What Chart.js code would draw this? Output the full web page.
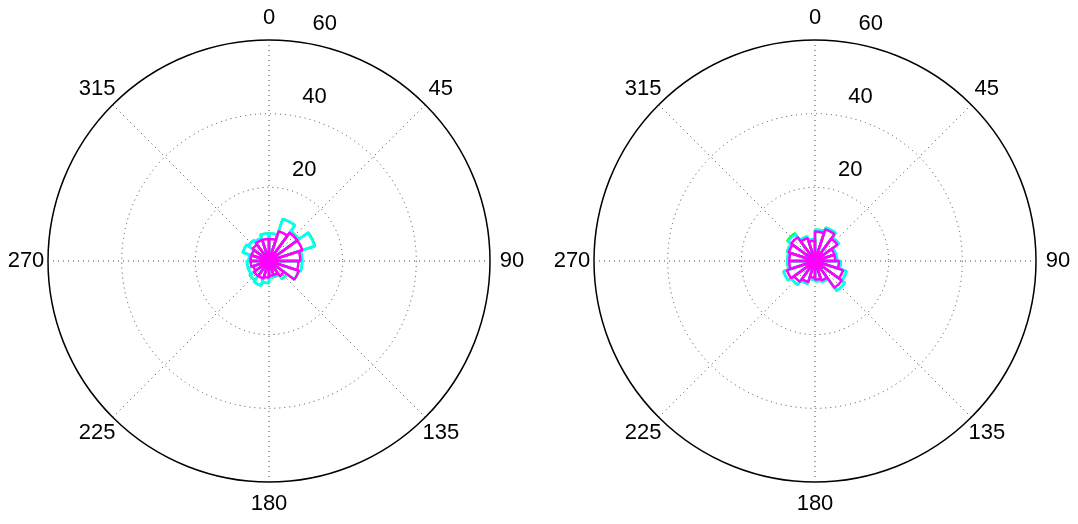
<!DOCTYPE html>
<html>
<head>
<meta charset="utf-8">
<script src="https://cdn.jsdelivr.net/npm/chart.js@4.4.0/dist/chart.umd.min.js"></script>
<style>
    html, body { margin: 0; padding: 0; background: #fff; }
    #wrap { position: relative; width: 1078px; height: 524px; }
    canvas { position: absolute; top: 0; }
</style>
</head>
<body>
<div id="wrap">
    <canvas id="roseLeft" width="539" height="524" style="left:0"></canvas>
    <canvas id="roseRight" width="539" height="524" style="left:539px"></canvas>
</div>
<script>
// Direction bins (start angle of each 18 degree bin, clockwise from north)
const binStarts = ['0', '18', '36', '54', '72', '90', '108', '126', '144', '162',
                   '180', '198', '216', '234', '252', '270', '288', '306', '324', '342'];

// Left rose: counts per bin
const leftGreen   = [7.5, 12, 10, 13.15, 9, 9, 8.5, 6, 4.5, 4.5, 6, 7, 6.5, 6, 6, 5.5, 7.5, 7, 6.5, 7.5];
const leftCyan    = [7.5, 12, 10, 13, 9, 9, 8.5, 6, 4.5, 4.5, 6, 7, 6.5, 6, 6, 5.5, 7.5, 7, 6.5, 7.5];
const leftMagenta = [6, 8.5, 9.5, 9.5, 8.5, 8, 8.5, 5, 4, 4, 4.5, 5, 5, 4.5, 5, 5, 5, 5.5, 6, 6];

// Right rose: counts per bin
const rightGreen   = [8.5, 9.5, 8, 6, 6, 7, 9, 10, 6, 5.5, 5, 6.5, 8, 9, 7.5, 7.5, 8, 9.3, 7, 6];
const rightCyan    = [8.5, 9.5, 8, 6, 6, 7, 9, 10, 6, 5.5, 5, 6.5, 8, 9, 7.5, 7.5, 8, 9, 7, 6];
const rightMagenta = [8, 9, 7.5, 5.5, 5.5, 6.5, 8, 9, 5.5, 5, 4.5, 6, 7, 8, 7, 7, 7.5, 8, 6.5, 5.5];

// Axis labels
const angleTicks = [0, 45, 90, 135, 180, 225, 270, 315];
const radialTicks = [20, 40, 60];
const radialMax = 60;

const labelFont = '22px "Liberation Sans", Arial, sans-serif';

// Draws the dotted spokes and the MATLAB-style text labels
const polarFrame = {
    id: 'polarFrame',
    beforeDatasetsDraw(chart) {
        const r = chart.scales.r;
        const ctx = chart.ctx;
        const R = r.getDistanceFromCenterForValue(radialMax);
        ctx.save();
        ctx.strokeStyle = '#444';
        ctx.lineWidth = 1;
        ctx.setLineDash([1, 4]);
        angleTicks.forEach(a => {
            const t = a * Math.PI / 180;
            ctx.beginPath();
            ctx.moveTo(r.xCenter, r.yCenter);
            ctx.lineTo(r.xCenter + R * Math.sin(t), r.yCenter - R * Math.cos(t));
            ctx.stroke();
        });
        ctx.restore();
    },
    afterDraw(chart) {
        const r = chart.scales.r;
        const ctx = chart.ctx;
        const R = r.getDistanceFromCenterForValue(radialMax);
        ctx.save();
        ctx.fillStyle = '#000';
        ctx.font = labelFont;
        ctx.textAlign = 'center';
        ctx.textBaseline = 'middle';
        angleTicks.forEach(a => {
            const t = a * Math.PI / 180;
            ctx.fillText(String(a), r.xCenter + (R + 22) * Math.sin(t), r.yCenter - (R + 22) * Math.cos(t));
        });
        const t8 = 8 * Math.PI / 180;
        radialTicks.forEach(v => {
            const d = r.getDistanceFromCenterForValue(v);
            ctx.fillText(String(v), r.xCenter + d * Math.sin(t8) + 25, r.yCenter - d * Math.cos(t8) - 18);
        });
        ctx.restore();
    }
};

function renderRose(canvasId, magenta, cyan, green, padLeft, padRight) {
    const ctx = document.getElementById(canvasId).getContext('2d');
    return new Chart(ctx, {
        type: 'polarArea',
        data: {
            labels: binStarts,
            datasets: [
                { data: magenta, backgroundColor: 'rgba(0,0,0,0)', borderColor: '#ff00ff', borderWidth: 2.5 },
                { data: cyan, backgroundColor: 'rgba(0,0,0,0)', borderColor: '#00ffff', borderWidth: 2.5 },
                { data: green, backgroundColor: 'rgba(0,0,0,0)', borderColor: '#00ff00', borderWidth: 2.5 }
            ]
        },
        options: {
            responsive: false,
            animation: false,
            events: [],
            layout: { padding: { left: padLeft, right: padRight, top: 40, bottom: 42 } },
            plugins: { legend: { display: false }, tooltip: { enabled: false } },
            scales: {
                r: {
                    min: 0,
                    max: radialMax,
                    startAngle: 0,
                    ticks: { display: false, stepSize: 20 },
                    pointLabels: { display: false },
                    angleLines: { display: false },
                    grid: {
                        circular: true,
                        color: c => c.tick.value === radialMax ? '#000' : '#444',
                        lineWidth: c => c.tick.value === radialMax ? 1.5 : 1
                    },
                    border: {
                        dash: c => c.tick && c.tick.value === radialMax ? [] : [1, 4]
                    }
                }
            }
        },
        plugins: [polarFrame]
    });
}

renderRose('roseLeft', leftMagenta, leftCyan, leftGreen, 48, 49);
renderRose('roseRight', rightMagenta, rightCyan, rightGreen, 55, 42);
</script>
</body>
</html>
